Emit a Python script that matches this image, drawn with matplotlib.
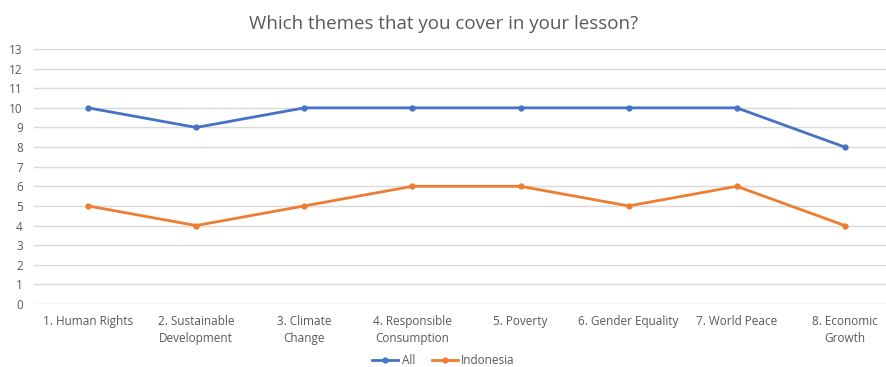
import matplotlib
matplotlib.use('Agg')
import matplotlib.pyplot as plt

# ---- data ----
categories = ['1. Human Rights', '2. Sustainable\nDevelopment', '3. Climate\nChange',
              '4. Responsible\nConsumption', '5. Poverty', '6. Gender Equality',
              '7. World Peace', '8. Economic\nGrowth']
all_vals = [10, 9, 10, 10, 10, 10, 10, 8]
indonesia_vals = [5, 4, 5, 6, 6, 5, 6, 4]

BLUE = '#4472C4'
ORANGE = '#ED7D31'
TXT = '#595959'

plt.rcParams['font.family'] = ['Open Sans', 'DejaVu Sans']

W, H = 887, 367
fig = plt.figure(figsize=(W / 100, H / 100), dpi=100)
ax = fig.add_axes([34 / W, 63 / H, (W - 34) / W, (318 - 63) / H])

x = list(range(len(categories)))
ax.plot(x, all_vals, color=BLUE, lw=2, marker='o', ms=3.5, label='All')
ax.plot(x, indonesia_vals, color=ORANGE, lw=2, marker='o', ms=3.5, label='Indonesia')

ax.set_xlim(-0.5, 7.39)
ax.set_ylim(0, 13)
ax.set_yticks(range(0, 14))
ax.set_xticks(x)
ax.set_xticklabels(categories, fontsize=8.5, color=TXT, linespacing=1.35)
ax.tick_params(axis='y', labelsize=8.5, labelcolor=TXT, length=0, pad=8)
ax.tick_params(axis='x', length=0, pad=8)
ax.grid(axis='y', color='#D9D9D9', lw=1)
ax.set_axisbelow(True)
for s in ax.spines.values():
    s.set_visible(False)

fig.suptitle('Which themes that you cover in your lesson?', x=0.5, y=0.96,
             fontsize=13.5, color=TXT)

fig.legend(loc='lower center', bbox_to_anchor=(0.5, -0.03), ncol=2, frameon=False,
           fontsize=8.5, labelcolor=TXT, handlelength=2.2, handletextpad=0.3,
           columnspacing=1.4)

fig.savefig('out.png', dpi=100)
